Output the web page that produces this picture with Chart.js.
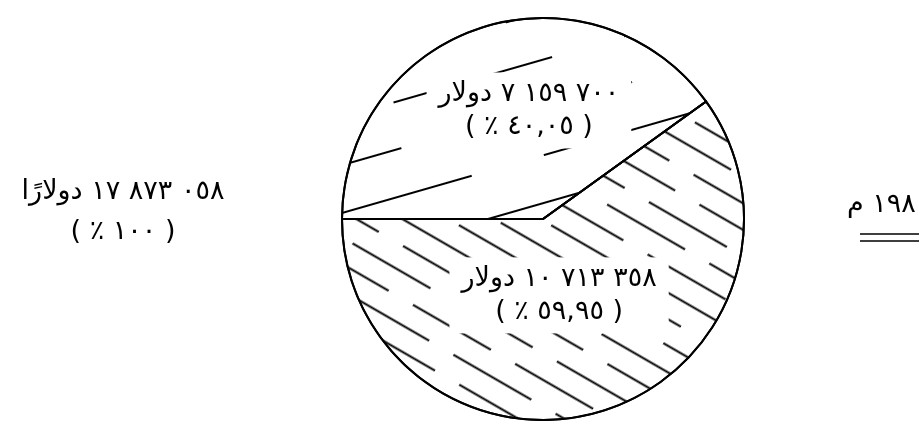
<!DOCTYPE html>
<html>
<head>
<meta charset="utf-8">
<script src="https://cdn.jsdelivr.net/npm/chart.js"></script>
<style>
  html, body { margin: 0; padding: 0; background: #fff; overflow: hidden; }
</style>
</head>
<body>
<canvas id="myPie" width="919" height="421"></canvas>
<script>
// data
const sliceNames = ["upper", "lower"];
const sliceDollars = [7159700, 10713358];
const slicePercents = [40.05, 59.95];
const totalDollars = 17873058;
const totalPercent = 100;
const sliceWord = "دولار";
const totalWord = "دولارًا";
const yearLabel = "١٩٨٠ م";

const FONT = '27px "DejaVu Sans", sans-serif';

function toArabicDigits(str) {
  return String(str).replace(/[0-9]/g, (d) => "٠١٢٣٤٥٦٧٨٩"[d]);
}

function displayDollars(n) {
  // nbsp between groups keeps the number as one run in rtl text
  const s = String(n).replace(/\B(?=(\d{3})+(?!\d))/g, "\u00A0");
  return toArabicDigits(s);
}

function displayPercent(p) {
  const s = Number.isInteger(p) ? String(p) : p.toFixed(2).replace(".", ",");
  return "( " + toArabicDigits(s) + " ٪ )";
}

// hatch made of broken lines, rotated to the given angle
function makeHatch(angle, spacing, dash, offsets) {
  const period = dash.reduce((a, b) => a + b, 0);
  const tile = document.createElement("canvas");
  tile.width = period;
  tile.height = spacing * offsets.length;
  const t = tile.getContext("2d");
  t.strokeStyle = "#000";
  t.lineWidth = 2.2;
  t.setLineDash(dash);
  offsets.forEach((off, i) => {
    t.lineDashOffset = off;
    const y = i * spacing + spacing / 2;
    t.beginPath();
    t.moveTo(-period, y);
    t.lineTo(period * 2, y);
    t.stroke();
  });
  const pattern = t.createPattern(tile, "repeat");
  pattern.setTransform(new DOMMatrix().rotate(angle));
  return pattern;
}

const upperHatch = makeHatch(-16, 46, [165, 75], [0, 130, 60]);
const lowerHatch = makeHatch(30, 23, [90, 28], [0, 45, 80, 20]);

const labelPlugin = {
  id: "labels",
  afterDatasetsDraw(chart) {
    const ctx = chart.ctx;
    const arcs = chart.getDatasetMeta(0).data;
    const cx = arcs[0].x;
    const cy = arcs[0].y;
    const r = arcs[0].outerRadius;
    const spots = [
      { dx: -0.07, dy: -0.54 },
      { dx: 0.08, dy: 0.38 },
    ];

    ctx.save();
    ctx.font = FONT;
    ctx.direction = "rtl";
    ctx.textAlign = "center";
    ctx.textBaseline = "middle";

    // clear the hatch behind the slice labels
    sliceDollars.forEach((v, i) => {
      const x = cx + spots[i].dx * r;
      const y = cy + spots[i].dy * r;
      const line1 = displayDollars(v) + " " + sliceWord;
      const line2 = displayPercent(slicePercents[i]);
      const w = Math.max(ctx.measureText(line1).width, ctx.measureText(line2).width);
      ctx.fillStyle = "#fff";
      ctx.fillRect(x - w / 2 - 12, y - 38, w + 24, 76);
    });

    // put the slice edges back on top
    ctx.strokeStyle = "#000";
    ctx.lineWidth = 2;
    ctx.lineJoin = "round";
    arcs.forEach((arc) => {
      ctx.beginPath();
      ctx.moveTo(arc.x, arc.y);
      ctx.arc(arc.x, arc.y, arc.outerRadius, arc.startAngle, arc.endAngle);
      ctx.closePath();
      ctx.stroke();
    });

    ctx.fillStyle = "#000";
    sliceDollars.forEach((v, i) => {
      const x = cx + spots[i].dx * r;
      const y = cy + spots[i].dy * r;
      ctx.fillText(displayDollars(v) + " " + sliceWord, x, y - 16);
      ctx.fillText(displayPercent(slicePercents[i]), x, y + 17);
    });

    // total on the left
    ctx.fillText(displayDollars(totalDollars) + " " + totalWord, 123, 192);
    ctx.fillText(displayPercent(totalPercent), 123, 232);

    // year on the right, with double underline
    ctx.textAlign = "left";
    ctx.fillText(yearLabel, 847, 205);
    ctx.lineWidth = 1.5;
    ctx.beginPath();
    ctx.moveTo(860, 234);
    ctx.lineTo(919, 234);
    ctx.moveTo(860, 241);
    ctx.lineTo(919, 241);
    ctx.stroke();
    ctx.restore();
  },
};

const myChart = new Chart(document.getElementById("myPie"), {
  type: "pie",
  data: {
    labels: sliceNames,
    datasets: [
      {
        data: sliceDollars,
        backgroundColor: [upperHatch, lowerHatch],
        borderColor: "#000",
        borderWidth: 2,
      },
    ],
  },
  options: {
    responsive: false,
    animation: false,
    rotation: -90,
    layout: { padding: { left: 300, right: 133, top: 17, bottom: 0 } },
    plugins: {
      legend: { display: false },
      tooltip: { enabled: false },
    },
  },
  plugins: [labelPlugin],
});
</script>
</body>
</html>
